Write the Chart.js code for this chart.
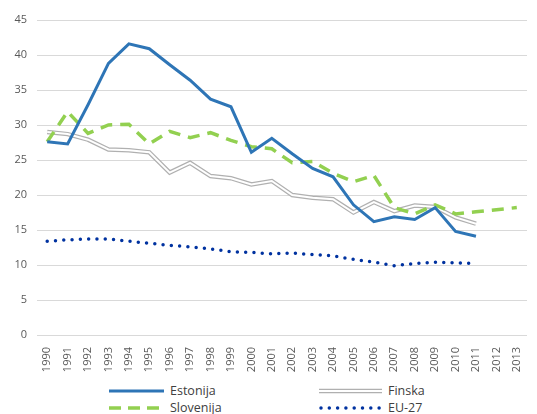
<!DOCTYPE html>
<html>
<head>
<meta charset="utf-8">
<script src="https://cdn.jsdelivr.net/npm/chart.js@4"></script>
<style>
  html, body { margin: 0; padding: 0; background: #fff; }
  #wrap { position: relative; width: 537px; height: 414px; font-family: "Open Sans", sans-serif; }
  #box { position: absolute; left: 0; top: 0; width: 537px; height: 380px; }
  .leg { position: absolute; font-size: 12.5px; color: #404040; line-height: 16px; white-space: nowrap; }
  .leg svg { position: absolute; left: -62px; top: 2px; }
</style>
</head>
<body>
<div id="wrap">
  <div id="box"><canvas id="chart"></canvas></div>
  <div class="leg" style="left:170px; top:383px;"><svg width="58" height="12"><line x1="1" y1="6" x2="56" y2="6" stroke="#2E75B6" stroke-width="3"/></svg>Estonija</div>
  <div class="leg" style="left:388px; top:383px;"><svg width="66" height="12" style="left:-70px"><line x1="1" y1="6" x2="64" y2="6" stroke="#b0b0b0" stroke-width="4.5"/><line x1="1" y1="6" x2="64" y2="6" stroke="#fff" stroke-width="2"/></svg>Finska</div>
  <div class="leg" style="left:170px; top:400px;"><svg width="58" height="12"><line x1="1" y1="6" x2="56" y2="6" stroke="#92D050" stroke-width="3.5" stroke-dasharray="12 7"/></svg>Slovenija</div>
  <div class="leg" style="left:388px; top:400px;"><svg width="66" height="12" style="left:-70px"><line x1="3" y1="6" x2="64" y2="6" stroke="#0032A0" stroke-width="3.5" stroke-linecap="round" stroke-dasharray="0 8.3"/></svg>EU-27</div>
</div>
<script>
// categories
const years = ["1990","1991","1992","1993","1994","1995","1996","1997","1998","1999","2000",
  "2001","2002","2003","2004","2005","2006","2007","2008","2009","2010","2011","2012","2013"];

// series values
const estonija = [27.6, 27.3, 32.9, 38.8, 41.6, 40.9, 38.6, 36.4, 33.7, 32.6, 26.1,
  28.1, 25.9, 23.8, 22.6, 18.6, 16.2, 16.9, 16.5, 18.2, 14.8, 14.1, null, null];
const finska = [29.0, 28.7, 27.9, 26.5, 26.4, 26.1, 23.2, 24.6, 22.7, 22.4, 21.5,
  22.0, 20.0, 19.6, 19.4, 17.5, 19.0, 17.7, 18.5, 18.3, 16.8, 15.9, null, null];
const slovenija = [27.6, 31.9, 28.8, 30.0, 30.1, 27.3, 29.1, 28.2, 28.9, 27.8, 26.9,
  26.6, 24.6, 24.8, 23.1, 21.9, 22.8, 18.2, 17.3, 18.6, 17.3, 17.6, 17.9, 18.2];
const eu27 = [13.4, 13.6, 13.7, 13.7, 13.4, 13.1, 12.8, 12.6, 12.3, 11.9, 11.8,
  11.6, 11.7, 11.5, 11.3, 10.8, 10.4, 9.9, 10.2, 10.4, 10.3, 10.2, null, null];

const tickFont = { family: "Open Sans", size: 11 };

// first dataset is drawn on top
new Chart(document.getElementById("chart"), {
  type: "line",
  data: {
    labels: years,
    datasets: [
      { label: "Estonija", data: estonija, borderColor: "#2E75B6", borderWidth: 3,
        pointRadius: 0, tension: 0 },
      { label: "Slovenija", data: slovenija, borderColor: "#92D050", borderWidth: 3.5,
        borderDash: [12, 8], pointRadius: 0, tension: 0 },
      { label: "Finska inner", data: finska, borderColor: "#ffffff", borderWidth: 2,
        pointRadius: 0, tension: 0 },
      { label: "Finska", data: finska, borderColor: "#b0b0b0", borderWidth: 4.5,
        pointRadius: 0, tension: 0 },
      { label: "EU-27", data: eu27, borderColor: "#0032A0", borderWidth: 3.5,
        borderDash: [0, 8.3], borderCapStyle: "round", pointRadius: 0, tension: 0 }
    ]
  },
  options: {
    responsive: true,
    maintainAspectRatio: false,
    animation: false,
    layout: { padding: { top: 20, right: 10, left: 0, bottom: 0 } },
    plugins: { legend: { display: false }, tooltip: { enabled: false } },
    scales: {
      x: {
        offset: true,
        grid: { display: false },
        border: { display: false },
        ticks: { color: "#595959", font: tickFont, minRotation: 90, maxRotation: 90, padding: 4 },
        afterFit: (s) => { s.height = 45; }
      },
      y: {
        min: 0, max: 45,
        ticks: { stepSize: 5, color: "#595959", font: tickFont, padding: 10 },
        grid: { color: "#d9d9d9", lineWidth: 1, drawTicks: false },
        border: { display: false },
        afterFit: (s) => { s.width = 37; }
      }
    }
  }
});
</script>
</body>
</html>
